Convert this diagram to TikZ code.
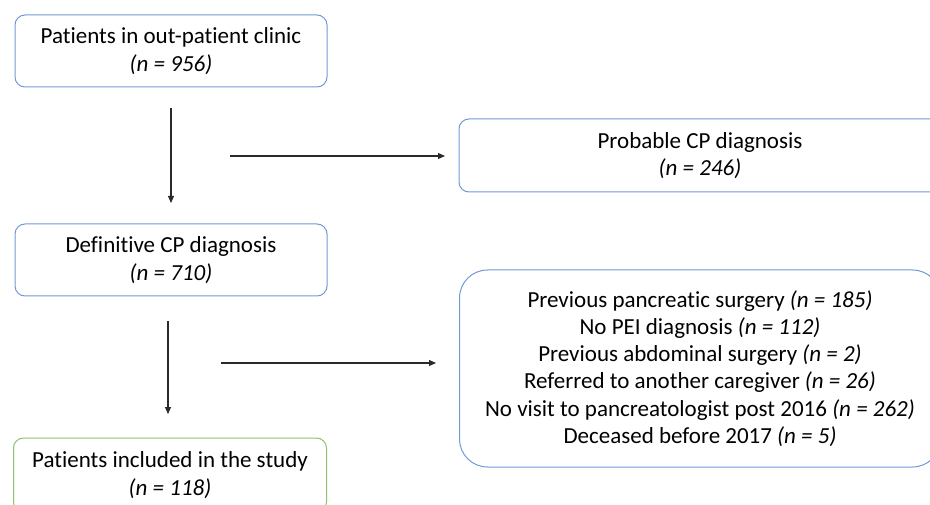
\documentclass[tikz,border=0pt]{standalone}
\usepackage{fontspec}
\setmainfont[Ligatures=NoCommon]{Carlito}
\usetikzlibrary{arrows.meta}
\definecolor{boxblue}{HTML}{7399D6}
\definecolor{boxgreen}{HTML}{8DC26C}
\definecolor{arrgray}{HTML}{2A2A2A}
\tikzset{
  flowbox/.style={draw=boxblue, line width=1pt, rounded corners=10pt, align=center,
    font=\fontsize{23}{27.3}\selectfont, inner sep=0pt, fill=white},
  greenbox/.style={flowbox, draw=boxgreen},
  flowarrow/.style={draw=arrgray, line width=1.1pt, -{Triangle[length=7pt,width=6pt]}}
}
\begin{document}
\begin{tikzpicture}[x=1pt,y=-1pt]
\useasboundingbox (0,0) rectangle (930,505);
\clip (0,0) rectangle (930,505);
\node[flowbox, minimum width=312pt, minimum height=72pt] (clinic) at (171,51)
  {Patients in out-patient clinic\\\textit{(n = 956)}};
\node[flowbox, minimum width=482pt, minimum height=73pt] (probable) at (700,155.5)
  {Probable CP diagnosis\\\textit{(n = 246)}};
\node[flowbox, minimum width=312pt, minimum height=72pt] (definitive) at (171,260)
  {Definitive CP diagnosis\\\textit{(n = 710)}};
\node[flowbox, rounded corners=28pt, minimum width=481pt, minimum height=197pt] (excluded) at (700,368.5)
  {Previous pancreatic surgery \textit{(n = 185)}\\
   No PEI diagnosis \textit{(n = 112)}\\
   Previous abdominal surgery \textit{(n = 2)}\\
   Referred to another caregiver \textit{(n = 26)}\\
   No visit to pancreatologist post 2016 \textit{(n = 262)}\\
   Deceased before 2017 \textit{(n = 5)}};
\node[greenbox, minimum width=313pt, minimum height=74pt] (included) at (170,475)
  {Patients included in the study\\\textit{(n = 118)}};
\coordinate (a1s) at (171,108);
\coordinate (a1e) at (171,203);
\coordinate (a2s) at (230,156);
\coordinate (a2e) at (445,156);
\coordinate (a3s) at (168,321);
\coordinate (a3e) at (168,414);
\coordinate (a4s) at (221,363);
\coordinate (a4e) at (436,363);
\draw[flowarrow] (a1s) -- (a1e);
\draw[flowarrow] (a2s) -- (a2e);
\draw[flowarrow] (a3s) -- (a3e);
\draw[flowarrow] (a4s) -- (a4e);
\end{tikzpicture}
\end{document}
